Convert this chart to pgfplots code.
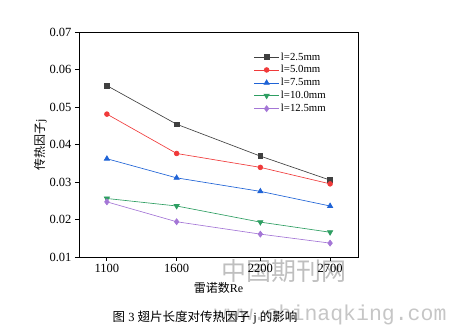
\documentclass[border=0pt]{standalone}
\usepackage{pgfplots}
\pgfplotsset{compat=1.18}
\usepackage{fontspec}
\setmainfont{Liberation Serif}
\setmonofont{Liberation Mono}
\newfontfamily\cjk{Noto Sans CJK SC}
\definecolor{cblack}{HTML}{404040}
\definecolor{cred}{HTML}{F03A3A}
\definecolor{cblue}{HTML}{1F63D6}
\definecolor{cgreen}{HTML}{2E9E62}
\definecolor{cpurple}{HTML}{A476D6}
\begin{document}
\begin{tikzpicture}
\path[use as bounding box] (0,0) rectangle (451pt,331pt);
\node[font=\cjk\fontsize{25}{28}\selectfont, text=gray!50] at (284pt,59.5pt) {中国期刊网};
\node[font=\ttfamily\fontsize{21.5}{24}\selectfont, text=gray!45, anchor=east] at (450pt,16pt) {www.chinaqking.com};
\begin{axis}[
  at={(79pt,74pt)}, anchor=south west,
  scale only axis, width=279pt, height=225pt,
  xmin=900, xmax=2900, ymin=0.01, ymax=0.07,
  xtick={1100,1600,2200,2700},
  ytick={0.01,0.02,0.03,0.04,0.05,0.06,0.07},
  yticklabel style={/pgf/number format/.cd,fixed,fixed zerofill,precision=2},
  scaled y ticks=false,
  xticklabel style={/pgf/number format/.cd,set thousands separator={}},
  /pgf/number format/assume math mode=true,
  tick align=outside, tick pos=left,
  major tick length=4pt,
  axis line style={line width=0.8pt},
  tick style={line width=0.8pt, black},
  ticklabel style={font=\fontsize{12.5}{14}\selectfont},
  xlabel={{\cjk 雷诺数}Re},
  ylabel={{\cjk 传热因子}j},
  xlabel style={font=\fontsize{12}{14}\selectfont, yshift=-3pt},
  ylabel style={font=\fontsize{12}{14}\selectfont, yshift=-4pt},
  legend style={at={(0.615,0.925)}, anchor=north west, draw=none, fill=none,
    font=\fontsize{10.8}{12}\selectfont, row sep=0.9pt,
    nodes={inner sep=1.5pt}},
  legend cell align=left,
  every axis plot/.append style={line width=0.65pt},
  every axis plot post/.append style={
    legend image code/.code={\draw[mark repeat=2,mark phase=2,##1] plot coordinates {(0cm,0cm) (0.44cm,0cm) (0.88cm,0cm)};}},
]
\addplot[cblack, mark=square*, mark size=2.3pt] coordinates {(1100,0.0557) (1600,0.0454) (2200,0.0369) (2700,0.0305)};
\addlegendentry{l=2.5mm}
\addplot[cred, mark=*, mark size=2.4pt] coordinates {(1100,0.0481) (1600,0.0376) (2200,0.0339) (2700,0.0295)};
\addlegendentry{l=5.0mm}
\addplot[cblue, mark=triangle*, mark size=3pt] coordinates {(1100,0.0362) (1600,0.0311) (2200,0.0275) (2700,0.0236)};
\addlegendentry{l=7.5mm}
\addplot[cgreen, mark=triangle*, mark size=3pt, mark options={rotate=180}] coordinates {(1100,0.0256) (1600,0.0236) (2200,0.0193) (2700,0.0166)};
\addlegendentry{l=10.0mm}
\addplot[cpurple, mark=diamond*, mark size=3pt] coordinates {(1100,0.0247) (1600,0.0194) (2200,0.0161) (2700,0.0137)};
\addlegendentry{l=12.5mm}
\end{axis}
\node[font=\fontsize{12.5}{14}\selectfont, anchor=center] at (205pt,13pt) {{\cjk 图} 3 {\cjk 翅片长度对传热因子} j {\cjk 的影响}};
\end{tikzpicture}
\end{document}
